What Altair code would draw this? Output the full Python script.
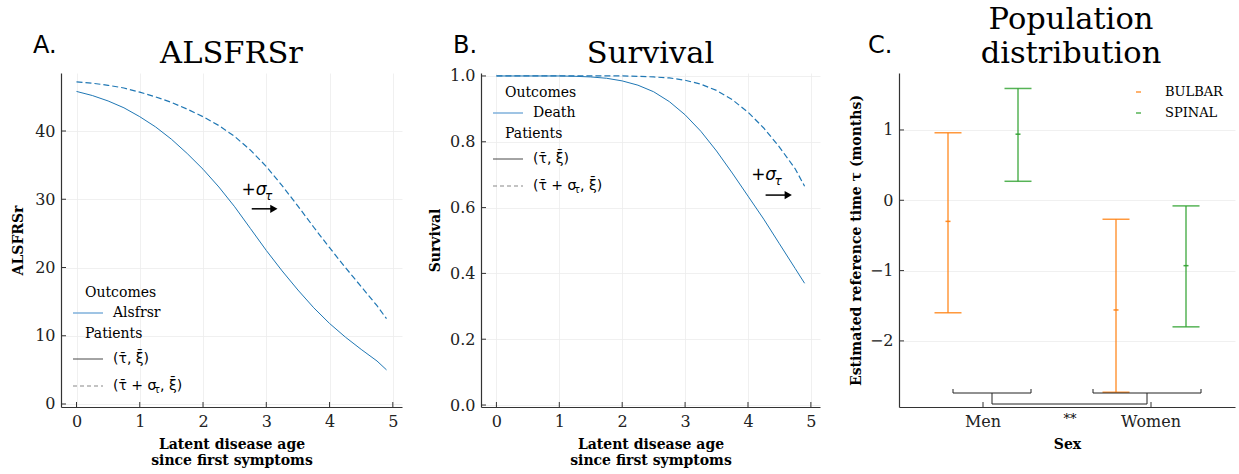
import altair as alt
import pandas as pd

SERIF = "DejaVu Serif"
SANS = "DejaVu Sans"
BLUE = "#1f77b4"
ORANGE = "#ff7f0e"
GREEN = "#2ca02c"
AXIS = "#333333"
W_A, W_B, W_C, H = 341, 339, 336, 334
TITLE_SIZE = 30.5

# ---------------- data ----------------
ages = [0, 0.25, 0.5, 0.75, 1.0, 1.25, 1.5, 1.75, 2.0, 2.25, 2.5,
        2.75, 3.0, 3.25, 3.5, 3.75, 4.0, 4.25, 4.5, 4.75, 4.9]
alsfrs_mean = [45.8, 45.2, 44.4, 43.4, 42.1, 40.6, 38.8, 36.7, 34.4, 31.8, 28.9,
               25.7, 22.5, 19.5, 16.7, 14.1, 11.8, 9.8, 8.0, 6.3, 5.0]
alsfrs_shift = [47.2, 47.0, 46.7, 46.3, 45.7, 45.0, 44.2, 43.2, 42.1, 40.8, 39.2,
                37.2, 34.8, 32.0, 29.0, 25.9, 22.9, 20.0, 17.2, 14.4, 12.5]
surv_mean = [1.0, 1.0, 1.0, 1.0, 1.0, 0.999, 0.997, 0.993, 0.985, 0.972, 0.952,
             0.922, 0.882, 0.832, 0.772, 0.705, 0.635, 0.565, 0.49, 0.415, 0.37]
surv_shift = [1.0, 1.0, 1.0, 1.0, 1.0, 1.0, 1.0, 1.0, 1.0, 0.999, 0.997,
              0.994, 0.987, 0.975, 0.956, 0.928, 0.89, 0.842, 0.784, 0.718, 0.665]

x_ticks = [0, 1, 2, 3, 4, 5]
alsfrs_ticks = [0, 10, 20, 30, 40]
surv_ticks = [0.0, 0.2, 0.4, 0.6, 0.8, 1.0]
tau_ticks = [-2, -1, 0, 1]

sex = ["Men", "Men", "Women", "Women"]
onset = ["BULBAR", "SPINAL", "BULBAR", "SPINAL"]
tau_mean = [-0.30, 0.94, -1.56, -0.93]
tau_low = [-1.60, 0.27, -2.73, -1.80]
tau_high = [0.96, 1.59, -0.27, -0.08]

# annotation "+sigma_tau" arrows (data coordinates)
ann_A = {"plus": [2.61, 30.6], "sub": [2.98, 29.9], "arrow": [2.77, 3.12, 28.6]}
ann_B = {"plus": [4.05, 0.684], "sub": [4.42, 0.669], "arrow": [4.28, 4.64, 0.638]}

dummy = pd.DataFrame({"d": [0]})


def txt(text, x, y, size=14, font=SERIF, align="left", baseline="middle",
        style="normal", color="black", weight="normal"):
    return alt.Chart(dummy).mark_text(
        text=text, align=align, baseline=baseline, font=font, fontSize=size,
        fontStyle=style, color=color, fontWeight=weight
    ).encode(x=alt.value(x), y=alt.value(y))


def hline(x1, x2, y, color, width=1.0, dash=None, opacity=1.0):
    kw = dict(color=color, strokeWidth=width, opacity=opacity)
    if dash:
        kw["strokeDash"] = dash
    return alt.Chart(dummy).mark_rule(**kw).encode(
        x=alt.value(x1), x2=alt.value(x2), y=alt.value(y))


def vline(x, y1, y2, color, width=1.0):
    return alt.Chart(dummy).mark_rule(color=color, strokeWidth=width).encode(
        x=alt.value(x), y=alt.value(y1), y2=alt.value(y2))


def legend_block(outcome_label, ox, oy):
    return [
        txt("Outcomes", ox + 12, oy),
        hline(ox, ox + 30, oy + 20, "#7fb0db", 1.5),
        txt(outcome_label, ox + 40, oy + 20),
        txt("Patients", ox + 12, oy + 41),
        hline(ox, ox + 30, oy + 66, "#333333", 0.9),
        txt("(τ̄, ξ̄)", ox + 40, oy + 66, size=14, font=SANS),
        hline(ox, ox + 30, oy + 93, "#888888", 1.2, dash=[4, 3]),
        txt("(τ̄ + σ", ox + 40, oy + 93, size=14, font=SANS),
        txt("τ", ox + 81, oy + 97, size=10, font=SANS),
        txt(", ξ̄)", ox + 87, oy + 93, size=14, font=SANS),
    ]


def title_marks(lines, width, letter, letter_dx, title_dx=0):
    marks = []
    n = len(lines)
    for i, line in enumerate(lines):
        marks.append(txt(line, width / 2 + title_dx, -10 - 34 * (n - 1 - i), size=TITLE_SIZE,
                         align="center", baseline="alphabetic"))
    marks.append(txt(letter, letter_dx, -20, size=24, font=SANS, baseline="alphabetic"))
    return marks


def curve_panel(width, ymean, yshift, ydom, yvals, yfmt, ytitle, title, letter,
                outcome_label, ann, leg_xy, ytitle_pad):
    df_m = pd.DataFrame({"age": ages, "value": ymean})
    df_s = pd.DataFrame({"age": ages, "value": yshift})
    xs = alt.Scale(domain=[-0.245, 5.145], nice=False, zero=False)
    ys = alt.Scale(domain=ydom, nice=False, zero=False)
    xax = alt.Axis(values=x_ticks, format="d",
                   title=["Latent disease age", "since first symptoms"],
                   titleLineHeight=16, titlePadding=8)
    yax = alt.Axis(values=yvals, format=yfmt, title=ytitle, titlePadding=ytitle_pad)
    X = alt.X("age:Q", scale=xs, axis=xax)
    Y = alt.Y("value:Q", scale=ys, axis=yax)

    solid = alt.Chart(df_m).mark_line(color=BLUE, strokeWidth=1).encode(x=X, y=Y)
    dashed = alt.Chart(df_s).mark_line(color=BLUE, strokeWidth=1.2,
                                        strokeDash=[6, 3]).encode(x=X, y=Y)
    xt = alt.Chart(pd.DataFrame({"age": x_ticks})).mark_rule(color=AXIS).encode(
        x=X, y=alt.value(H), y2=alt.value(H - 5))
    yt = alt.Chart(pd.DataFrame({"value": yvals})).mark_rule(color=AXIS).encode(
        y=Y, x=alt.value(0), x2=alt.value(5))

    plus_df = pd.DataFrame({"age": [ann["plus"][0]], "value": [ann["plus"][1]]})
    sub_df = pd.DataFrame({"age": [ann["sub"][0]], "value": [ann["sub"][1]]})
    arr_df = pd.DataFrame({"age": [ann["arrow"][0]], "age2": [ann["arrow"][1]],
                           "value": [ann["arrow"][2]]})
    tip_df = pd.DataFrame({"age": [ann["arrow"][1]], "value": [ann["arrow"][2]]})
    plus = alt.Chart(plus_df).mark_text(text="+σ", align="left", baseline="alphabetic",
                                        font=SANS, fontSize=17, fontStyle="italic").encode(x=X, y=Y)
    sub = alt.Chart(sub_df).mark_text(text="τ", align="left", baseline="alphabetic",
                                      font=SANS, fontSize=12, fontStyle="italic").encode(x=X, y=Y)
    arrow = alt.Chart(arr_df).mark_rule(color="black", strokeWidth=1.5).encode(
        x=X, x2="age2:Q", y=Y)
    tip = alt.Chart(tip_df).mark_point(shape="triangle-right", filled=True, color="black",
                                       size=70, opacity=1).encode(x=X, y=Y)

    layers = [solid, dashed, xt, yt, plus, sub, arrow, tip]
    layers += legend_block(outcome_label, *leg_xy)
    layers += title_marks([title], width, letter, -28)
    return alt.layer(*layers).properties(width=width, height=H)


panel_a = curve_panel(W_A, alsfrs_mean, alsfrs_shift, [-0.44, 48.5], alsfrs_ticks, "d",
                      "ALSFRSr", "ALSFRSr", "A.", "Alsfrsr", ann_A, (12, 220), 9)
panel_b = curve_panel(W_B, surv_mean, surv_shift, [-0.006, 1.009], surv_ticks, ".1f",
                      "Survival", "Survival", "B.", "Death", ann_B, (12, 20), 7)

# ---------------- panel C ----------------
err = pd.DataFrame({"sex": sex, "onset": onset, "mean": tau_mean,
                    "low": tau_low, "high": tau_high})
xsC = alt.Scale(domain=["Men", "Women"], paddingInner=0, paddingOuter=0)
xaxC = alt.Axis(title="Sex", labelAngle=0, grid=False, labelPadding=6, titlePadding=8)
XC = alt.X("sex:N", scale=xsC, axis=xaxC)
XO = alt.XOffset("onset:N", scale=alt.Scale(domain=["BULBAR", "SPINAL"],
                                             paddingInner=0, paddingOuter=0.2))
ysC = alt.Scale(domain=[-2.94, 1.81], nice=False, zero=False)
yaxC = alt.Axis(values=tau_ticks, format="d", title="Estimated reference time τ (months)",
                titlePadding=6)
COL = alt.Color("onset:N", scale=alt.Scale(domain=["BULBAR", "SPINAL"],
                                           range=[ORANGE, GREEN]), legend=None)

bars = alt.Chart(err).mark_rule(strokeWidth=1.5, opacity=0.8).encode(
    x=XC, xOffset=XO, y=alt.Y("low:Q", scale=ysC, axis=yaxC), y2="high:Q", color=COL)
cap_lo = alt.Chart(err).mark_tick(size=27, thickness=1.5, opacity=0.8).encode(
    x=XC, xOffset=XO, y=alt.Y("low:Q", scale=ysC, axis=yaxC), color=COL)
cap_hi = alt.Chart(err).mark_tick(size=27, thickness=1.5, opacity=0.8).encode(
    x=XC, xOffset=XO, y=alt.Y("high:Q", scale=ysC, axis=yaxC), color=COL)
mean_t = alt.Chart(err).mark_tick(size=5, thickness=1.5, opacity=0.9).encode(
    x=XC, xOffset=XO, y=alt.Y("mean:Q", scale=ysC, axis=yaxC), color=COL)
xtC = alt.Chart(pd.DataFrame({"sex": ["Men", "Women"]})).mark_rule(color=AXIS).encode(
    x=XC, y=alt.value(H), y2=alt.value(H - 5))
ytC = alt.Chart(pd.DataFrame({"mean": tau_ticks})).mark_rule(color=AXIS).encode(
    y=alt.Y("mean:Q", scale=ysC, axis=yaxC), x=alt.value(0), x2=alt.value(5))

BR = "#222222"
brackets = [
    hline(54, 132, 320, BR), vline(54, 316, 320, BR), vline(132, 316, 320, BR),
    hline(194, 302, 320, BR), vline(194, 316, 320, BR), vline(302, 316, 320, BR),
    vline(93, 320, 331, BR), vline(248, 320, 331, BR), hline(93, 248, 331, BR),
    txt("**", 171, 346, size=13, align="center"),
]
legC = [
    hline(237, 242, 19, ORANGE, 1.5, opacity=0.8),
    txt("BULBAR", 266, 19, size=13),
    hline(237, 242, 40, GREEN, 1.5, opacity=0.8),
    txt("SPINAL", 266, 40, size=13),
]
panel_c = alt.layer(bars, cap_lo, cap_hi, mean_t, xtC, ytC, *brackets, *legC,
                    *title_marks(["Population", "distribution"], W_C, "C.", -31, 4)
                    ).properties(width=W_C, height=H)

chart = alt.hconcat(panel_a, panel_b, panel_c, spacing=79, bounds="flush").properties(
    padding={"left": 11, "top": 5, "right": 4, "bottom": 5}
).configure_view(stroke=None).configure_axis(
    domainColor=AXIS, domainWidth=1.2, ticks=False, gridColor="#ececec", gridWidth=0.8,
    labelFont=SERIF, labelFontSize=16, labelColor="#222222", labelPadding=6,
    titleFont=SERIF, titleFontSize=14, titleFontWeight="bold", titleColor="black"
)

chart.save("out.html", embed_options={"renderer": "svg", "actions": False})
